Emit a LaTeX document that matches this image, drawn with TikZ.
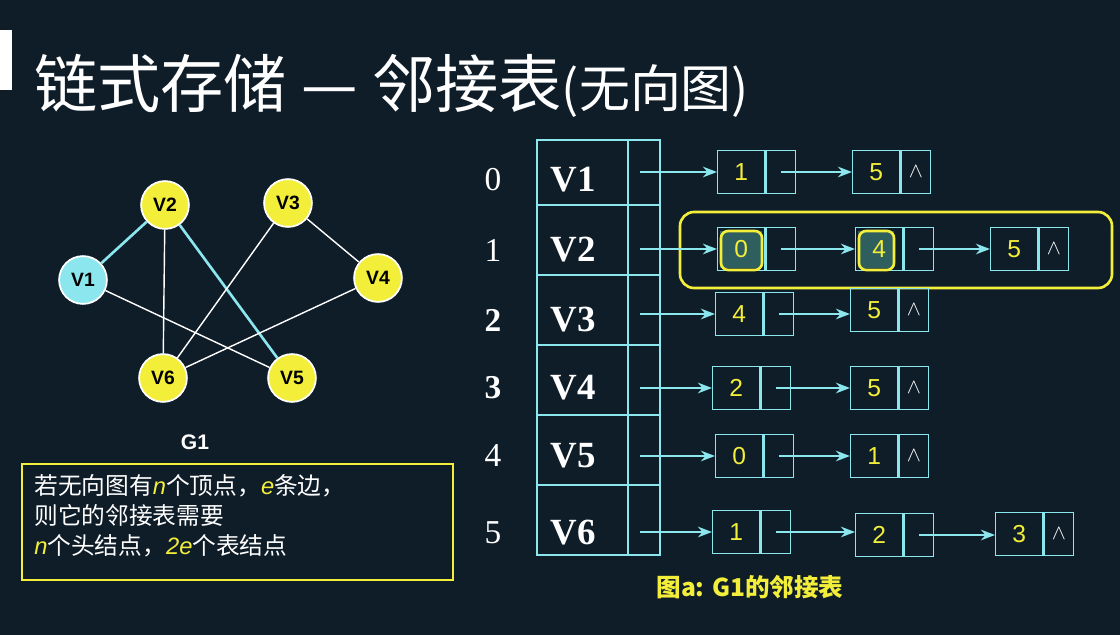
\documentclass[tikz,border=0pt]{standalone}
\usepackage{fontspec}
\setmainfont{Liberation Serif}
\setsansfont{Liberation Sans}
\newfontfamily\cjk{Noto Sans CJK SC}
\usetikzlibrary{arrows.meta}
\definecolor{bg}{HTML}{0F1D29}
\definecolor{lcyan}{HTML}{8CE6EE}
\definecolor{lyel}{HTML}{F2EE3A}
\definecolor{dteal}{HTML}{2E5E5E}
\tikzset{
  vtx/.style={circle,draw=white,line width=1pt,minimum size=48pt*0.567,inner sep=0pt,font=\sffamily\bfseries\fontsize{11}{11}\selectfont,text=black},
  cell/.style={draw=lcyan,line width=0.6pt,minimum height=24.5pt,inner sep=0pt,anchor=west},
  link/.style={-{Stealth[length=8pt,width=6pt]},lcyan,line width=1.3pt},
  idx/.style={font=\fontsize{19}{19}\selectfont,text=white},
}
% list node: name, x, y, value, next cell text
\newcommand{\lnode}[5]{
  \node[cell,minimum width=27pt,font=\sffamily\fontsize{14}{14}\selectfont,text=lyel] (#1) at (#2,#3) {#4};
  \node[cell,minimum width=17pt,font=\sffamily\fontsize{13}{13}\selectfont,text=white] (#1p) at (#1.east) {#5};
}
\newcommand{\ivar}[1]{{\color{lyel}\sffamily\itshape #1}}
\begin{document}
\begin{tikzpicture}[x=0.02cm,y=-0.02cm]
\fill[bg] (0,0) rectangle (1120,635);
\useasboundingbox (0,0) rectangle (1120,635);
\fill[white] (0,30) rectangle (12,90);
\node[anchor=west,text=white,font=\cjk\fontsize{36}{36}\selectfont] (title) at (28,86) {链式存储 — 邻接表{\fontsize{29}{29}\selectfont(无向图)}};

% graph G1
\node[vtx,fill=lyel] (v2) at (165,205) {V2};
\node[vtx,fill=lyel] (v3) at (288,203) {V3};
\node[vtx,fill=lcyan] (v1) at (83,280) {V1};
\node[vtx,fill=lyel] (v4) at (378,278) {V4};
\node[vtx,fill=lyel] (v6) at (163,378) {V6};
\node[vtx,fill=lyel] (v5) at (292,378) {V5};
\draw[lcyan,line width=1.5pt] (v1) -- (v2);
\draw[lcyan,line width=1.5pt] (v2) -- (v5);
\draw[white,line width=0.8pt] (v2) -- (v6);
\draw[white,line width=0.8pt] (v1) -- (v5);
\draw[white,line width=0.8pt] (v3) -- (v6);
\draw[white,line width=0.8pt] (v4) -- (v6);
\draw[white,line width=0.8pt] (v3) -- (v4);
\node[text=white,font=\sffamily\bfseries\fontsize{12}{12}\selectfont] (g1) at (195,442) {G1};

% note
\draw[lyel,line width=0.8pt] (22,464) rectangle (453,580);
\node[anchor=north west,align=left,text=white,font=\cjk\fontsize{13.5}{17}\selectfont,inner sep=0pt] (note) at (34,474)
  {若无向图有\ivar{n}个顶点，\ivar{e}条边，\\则它的邻接表需要\\\ivar{n}个头结点，\ivar{2e}个表结点};

% head table
\draw[lcyan,line width=0.6pt] (537,140) rectangle (628,555);
\draw[lcyan,line width=0.6pt] (628,140) rectangle (660,555);
\foreach \yy in {205,275,345,415,485} \draw[lcyan,line width=0.6pt] (537,\yy) -- (660,\yy);
\node[idx] (i0) at (493,180) {0};
\node[idx] (i1) at (493,250) {1};
\node[idx,font=\bfseries\fontsize{19}{19}\selectfont] (i2) at (493,320) {2};
\node[idx,font=\bfseries\fontsize{19}{19}\selectfont] (i3) at (493,388) {3};
\node[idx] (i4) at (493,456) {4};
\node[idx] (i5) at (493,533) {5};
\foreach \k/\yy in {1/180,2/250,3/320,4/388,5/456,6/533}
  \node[text=white,font=\bfseries\fontsize{21}{21}\selectfont] (h\k) at (573,\yy) {V\k};
\foreach \k/\yy in {1/172,2/249,3/314,4/388,5/456,6/532}
  \coordinate (p\k) at (640,\yy);

% lists
\lnode{a1}{717}{172}{1}{}
\lnode{a2}{852}{172}{5}{$\wedge$}
\draw[link] (p1) -- (a1);
\draw[link] (a1p.center) -- (a2);

\draw[lyel,line width=1.5pt,rounded corners=8pt] (680,212) rectangle (1112,288);
\fill[dteal] (720,231) rectangle (762,268);
\fill[dteal] (858,231) rectangle (894,268);
\lnode{b1}{717}{249}{0}{}
\lnode{b2}{855}{249}{4}{}
\lnode{b3}{990}{249}{5}{$\wedge$}
\draw[lyel,line width=1.5pt,rounded corners=4pt] (721,231) rectangle (762,270);
\draw[lyel,line width=1.5pt,rounded corners=4pt] (859,231) rectangle (894,270);
\draw[link] (p2) -- (b1);
\draw[link] (b1p.center) -- (b2);
\draw[link] (b2p.center) -- (b3);

\lnode{c1}{715}{314}{4}{}
\lnode{c2}{850}{310}{5}{$\wedge$}
\draw[link] (p3) -- (c1);
\draw[link] (c1p.center) -- (c2.west |- c1p.center);

\lnode{d1}{712}{388}{2}{}
\lnode{d2}{850}{388}{5}{$\wedge$}
\draw[link] (p4) -- (d1);
\draw[link] (d1p.center) -- (d2);

\lnode{e1}{715}{456}{0}{}
\lnode{e2}{850}{456}{1}{$\wedge$}
\draw[link] (p5) -- (e1);
\draw[link] (e1p.center) -- (e2);

\lnode{f1}{712}{532}{1}{}
\lnode{f2}{855}{535}{2}{}
\lnode{f3}{995}{534}{3}{$\wedge$}
\draw[link] (p6) -- (f1);
\draw[link] (f1p.center) -- (f2.west |- f1p.center);
\draw[link] (f2p.center) -- (f3.west |- f2p.center);

\node[text=lyel,font=\cjk\bfseries\fontsize{14}{14}\selectfont] (cap) at (750,587) {图a: G1的邻接表};
\end{tikzpicture}
\end{document}
